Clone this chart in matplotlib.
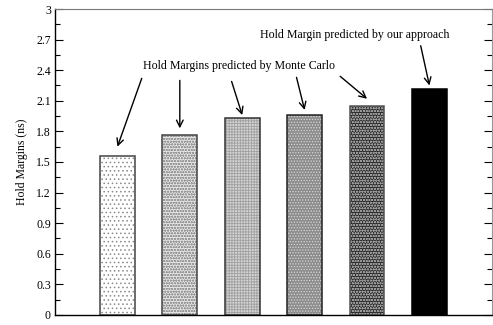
import matplotlib
matplotlib.use("Agg")
import matplotlib.pyplot as plt

plt.rcParams['font.family'] = ['Liberation Serif', 'DejaVu Serif']
plt.rcParams['hatch.linewidth'] = 0.6

# hold margins (ns) for the six cases
positions = [1, 2, 3, 4, 5, 6]
margins = [1.56, 1.76, 1.93, 1.96, 2.05, 2.22]

ytick_vals = [0, 0.3, 0.6, 0.9, 1.2, 1.5, 1.8, 2.1, 2.4, 2.7, 3]
ytick_labels = ['0', '0.3', '0.6', '0.9', '1.2', '1.5', '1.8', '2.1', '2.4', '2.7', '3']
yminor_vals = [0.15, 0.45, 0.75, 1.05, 1.35, 1.65, 1.95, 2.25, 2.55, 2.85]

face_colors = ['white', '#e6e6e6', '#d4d4d4', '#8c8c8c', '#2a2a2a', 'black']
hatch_colors = ['#8a8a8a', '#9a9a9a', '#a0a0a0', '#d8d8d8', '#9a9a9a', 'black']
hatches = ['....', 'oooooo', '++++++', '......', 'oooooo', '']
outline_colors = ['#444444', '#444444', '#333333', '#222222', '#555555', 'black']

fig = plt.figure(figsize=(4.93, 3.25), dpi=100)
ax = fig.add_axes([0.1116, 0.0308, 0.886, 0.9415])

for x, h, fc, hc, ht, oc in zip(positions, margins, face_colors, hatch_colors, hatches, outline_colors):
    ax.bar(x, h, width=0.56, color=fc, edgecolor=hc, hatch=ht, linewidth=0)
    ax.bar(x, h, width=0.56, fill=False, edgecolor=oc, linewidth=1.1)

ax.set_xlim(0, 7)
ax.set_ylim(0, 3)
ax.set_xticks([])
ax.set_yticks(ytick_vals, ytick_labels)
ax.set_yticks(yminor_vals, minor=True)
ax.tick_params(axis='y', which='major', direction='in', length=6, width=0.8,
               right=True, labelsize=8.5, pad=3)
ax.tick_params(axis='y', which='minor', direction='in', length=3.5, width=0.8, right=True)
ax.set_ylabel('Hold Margins (ns)', fontsize=8.5, labelpad=6)

ax.spines['top'].set_color('#777777')
ax.spines['right'].set_color('#999999')
for s in ['left', 'bottom']:
    ax.spines[s].set_linewidth(1.0)

# annotation arrows
arrow = dict(arrowstyle='->', color='black', lw=1.0, shrinkA=0, shrinkB=0,
             mutation_scale=12)
mc_tails = [(1.39, 2.32), (2.0, 2.30), (2.83, 2.29), (3.87, 2.33), (4.57, 2.34)]
mc_gaps = [0.09, 0.07, 0.03, 0.05, 0.07]
for (tx, ty), x, h, g in zip(mc_tails, positions[:5], margins[:5], mc_gaps):
    ax.annotate('', xy=(x, h + g), xytext=(tx, ty), arrowprops=arrow)
ax.text(2.95, 2.44, 'Hold Margins predicted by Monte Carlo', fontsize=8.6,
        ha='center', va='center')

ax.annotate('', xy=(6.0, margins[5] + 0.03), xytext=(5.86, 2.64), arrowprops=arrow)
ax.text(4.8, 2.75, 'Hold Margin predicted by our approach', fontsize=8.6,
        ha='center', va='center')

fig.savefig('out.png', dpi=100)
